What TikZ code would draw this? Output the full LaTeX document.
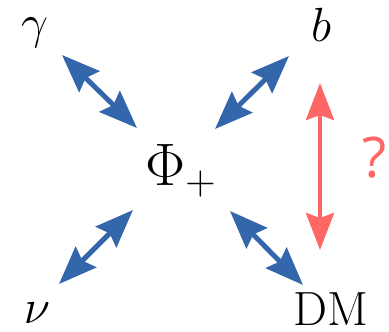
\RequirePackage{fix-cm}
\documentclass[tikz,border=0pt]{standalone}
\usepackage{fontspec}
\newfontfamily\qfont{Open Sans}
\usetikzlibrary{arrows.meta}
\definecolor{arrblue}{RGB}{51,102,170}
\definecolor{arrred}{RGB}{255,102,102}
\tikzset{
  lbl/.style={inner sep=0pt, font=\fontsize{48}{48}\selectfont},
  bluearr/.style={draw=arrblue, line width=5pt,
    {Stealth[length=38pt,width=29pt,inset=5pt]}-{Stealth[length=38pt,width=29pt,inset=5pt]}},
  redarr/.style={draw=arrred, line width=4pt,
    {Stealth[length=37pt,width=28pt,inset=5pt]}-{Stealth[length=37pt,width=28pt,inset=5pt]}}
}
\begin{document}
\begin{tikzpicture}[x=1pt,y=-1pt]
\useasboundingbox (0,0) rectangle (389,332);
\node[lbl] (g) at (34.5,32.5) {$\gamma$};
\node[lbl] (b) at (321,25) {$b$};
\node[lbl] (nu) at (37,313) {$\nu$};
\node[lbl] (dm) at (331,309) {DM};
\node[inner sep=0pt, anchor=base west, font=\fontsize{60}{60}\selectfont] (phi) at (145,185) {$\Phi_+$};
\node[inner sep=0pt, text=arrred, font=\fontsize{56}{56}\selectfont\qfont] (q) at (375,158) {?};
\coordinate (tl1) at (62,55);
\coordinate (tl2) at (137,128);
\coordinate (tr1) at (289,56);
\coordinate (tr2) at (215,129);
\coordinate (bl1) at (133,210);
\coordinate (bl2) at (59,284);
\coordinate (br1) at (230,211);
\coordinate (br2) at (303,285);
\coordinate (r1) at (320,83);
\coordinate (r2) at (320,250);
\draw[bluearr] (tl1) -- (tl2);
\draw[bluearr] (tr1) -- (tr2);
\draw[bluearr] (bl1) -- (bl2);
\draw[bluearr] (br1) -- (br2);
\draw[redarr] (r1) -- (r2);
\end{tikzpicture}
\end{document}
